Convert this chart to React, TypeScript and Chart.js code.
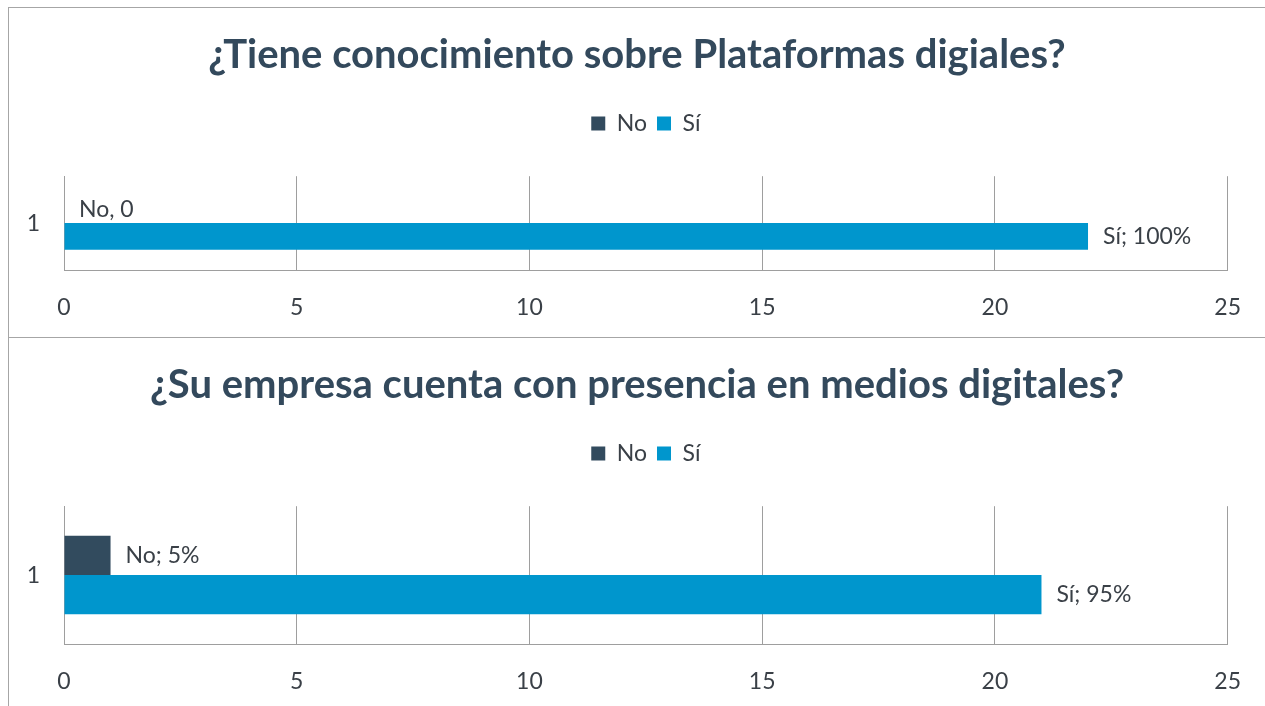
import React, { useEffect, useRef } from 'react';
import { Chart, registerables } from 'chart.js';

Chart.register(...registerables);

const categories = ['1'];
const seriesNames = ['No', 'Sí'];
const xMin = 0;
const xMax = 25;
const xStep = 5;

const chart1Title = '¿Tiene conocimiento sobre Plataformas digiales?';
const chart1No = [0];
const chart1Si = [22];
const chart1Labels = ['No, 0', 'Sí; 100%'];

const chart2Title = '¿Su empresa cuenta con presencia en medios digitales?';
const chart2No = [1];
const chart2Si = [21];
const chart2Labels = ['No; 5%', 'Sí; 95%'];

const COLOR_NO = '#324B5E';
const COLOR_SI = '#0096CD';
const TITLE_COLOR = '#33495C';
const TEXT_COLOR = '#3A4047';
const GRID_COLOR = '#9E9E9E';
const FRAME_COLOR = '#A6A6A6';
const FONT = 'Lato';

const dataLabelPlugin = {
  id: 'barValueLabels',
  afterDatasetsDraw(chart: any, _args: any, opts: any) {
    const ctx = chart.ctx;
    const labels: string[] = opts.labels || [];
    ctx.save();
    ctx.font = `23px ${FONT}`;
    ctx.fillStyle = TEXT_COLOR;
    ctx.textAlign = 'left';
    ctx.textBaseline = 'middle';
    chart.data.datasets.forEach((_ds: any, di: number) => {
      const meta = chart.getDatasetMeta(di);
      meta.data.forEach((bar: any) => {
        ctx.fillText(labels[di], bar.x + 15, bar.y);
      });
    });
    ctx.restore();
  },
};

function BarPanel(props: { title: string; no: number[]; si: number[]; labels: string[]; width: number; height: number }) {
  const ref = useRef<HTMLCanvasElement | null>(null);
  useEffect(() => {
    if (!ref.current) return;
    const chart = new Chart(ref.current, {
      type: 'bar',
      data: {
        labels: categories,
        datasets: [
          { label: seriesNames[0], data: props.no, backgroundColor: COLOR_NO, categoryPercentage: 0.57, barPercentage: 1.0 },
          { label: seriesNames[1], data: props.si, backgroundColor: COLOR_SI, categoryPercentage: 0.57, barPercentage: 1.0 },
        ],
      },
      options: {
        indexAxis: 'y',
        responsive: false,
        animation: false,
        layout: { padding: 0 },
        scales: {
          x: {
            type: 'linear',
            min: xMin,
            max: xMax,
            ticks: { stepSize: xStep, color: TEXT_COLOR, font: { family: FONT, size: 23 }, padding: 24 },
            grid: { color: GRID_COLOR, drawTicks: false, lineWidth: 1 },
            border: { display: true, color: GRID_COLOR, width: 1 },
            afterFit: (s: any) => { s.height = 67; },
          },
          y: {
            type: 'category',
            ticks: { color: TEXT_COLOR, font: { family: FONT, size: 23 }, padding: 24 },
            grid: { display: false, drawTicks: false },
            border: { display: true, color: GRID_COLOR, width: 1 },
            afterFit: (s: any) => { s.width = 55; },
          },
          yRightSpace: {
            type: 'category',
            position: 'right',
            display: true,
            ticks: { display: false },
            grid: { display: false, drawTicks: false },
            border: { display: false },
            afterFit: (s: any) => { s.width = 37; },
          },
        },
        plugins: {
          title: {
            display: true,
            text: props.title,
            color: TITLE_COLOR,
            font: { family: FONT, size: 40, weight: 'bold' },
            padding: { top: 23, bottom: 23 },
          },
          subtitle: {
            display: true,
            text: '',
            weight: 500,
            fullSize: false,
            font: { size: 1 },
            padding: { top: 15, bottom: 15 },
          } as any,
          legend: {
            display: true,
            position: 'top',
            fullSize: false,
            labels: {
              boxWidth: 14,
              boxHeight: 14,
              padding: 10,
              color: TEXT_COLOR,
              font: { family: FONT, size: 23 },
            },
          },
          tooltip: { enabled: false },
          barValueLabels: { labels: props.labels },
        } as any,
      },
      plugins: [dataLabelPlugin],
    });
    return () => chart.destroy();
  }, []);
  return <canvas ref={ref} width={props.width} height={props.height} style={{ display: 'block' }} />;
}

export default function App() {
  return (
    <div style={{ position: 'fixed', left: 0, top: 0, width: 1265, height: 706, overflow: 'hidden', background: '#fff' }}>
      <div style={{ position: 'absolute', left: 8, top: 7, width: 1300, height: 329, border: `1px solid ${FRAME_COLOR}` }}>
        <BarPanel title={chart1Title} no={chart1No} si={chart1Si} labels={chart1Labels} width={1256} height={329} />
      </div>
      <div style={{ position: 'absolute', left: 8, top: 337, width: 1300, height: 400, border: `1px solid ${FRAME_COLOR}` }}>
        <BarPanel title={chart2Title} no={chart2No} si={chart2Si} labels={chart2Labels} width={1256} height={373} />
      </div>
    </div>
  );
}
